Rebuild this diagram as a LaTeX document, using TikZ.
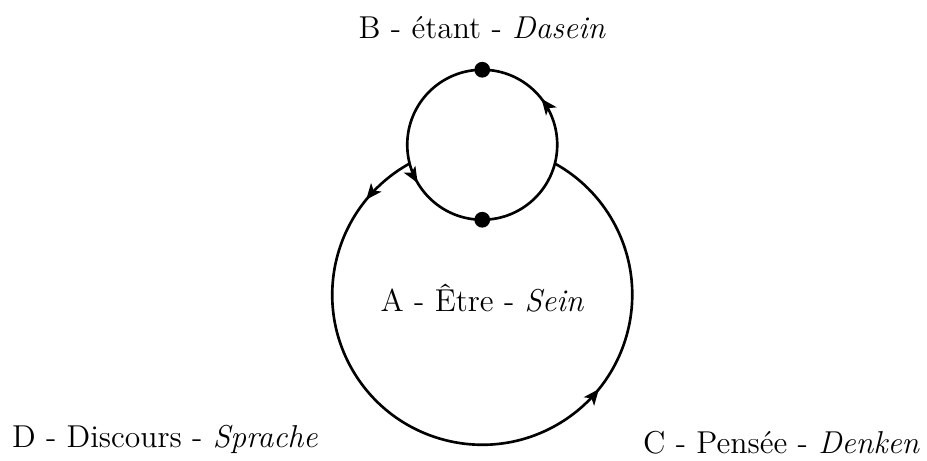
\documentclass[tikz,border=0pt]{standalone}
\usetikzlibrary{arrows.meta, decorations.markings, positioning, calc}
\tikzset{
  loopline/.style={line width=1pt},
  dot/.style={circle, fill=black, inner sep=0pt, minimum size=0.21cm},
  lbl/.style={font=\large},
  twomarks/.style 2 args={postaction={decorate}, decoration={markings,
      mark=at position #1 with {\arrow{Stealth[length=6pt, width=5pt, inset=1.5pt]}},
      mark=at position #2 with {\arrow{Stealth[length=6pt, width=5pt, inset=1.5pt]}}}}
}

\begin{document}
\begin{tikzpicture}
    \useasboundingbox (-6.43,-2.21) rectangle (5.93,3.93);

    % Big circle (A), only outside the small one
    \draw[loopline, twomarks={0.072}{0.669}] (118.95:2) arc[start angle=118.95, end angle=421.05, radius=2];

    % Small circle (B)
    \coordinate (B) at (0,2);
    \draw[loopline, twomarks={0.105}{0.585}] ($(B)+(0:1)$) arc[start angle=0, end angle=360, radius=1];

    % Dots
    \node[dot] (top) at (0,3) {};
    \node[dot] (bot) at (0,1) {};

    % Labels
    \node[lbl] (etant) at (0,3.56) {B - étant - \textit{Dasein}};
    \node[lbl] (etre) at (0,-0.05) {A - Être - \textit{Sein}};
    \node[lbl] (discours) at (-4.23,-1.93) {D - Discours - \textit{Sprache}};
    \node[lbl] (pensee) at (3.99,-1.97) {C - Pensée - \textit{Denken}};
\end{tikzpicture}
\end{document}
